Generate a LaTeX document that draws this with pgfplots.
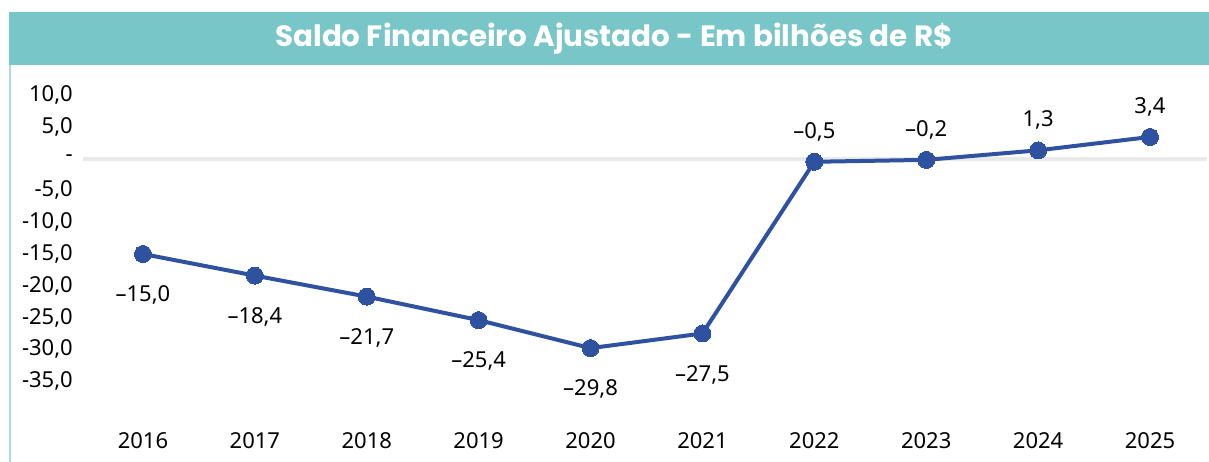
\documentclass[border=0pt]{standalone}
\usepackage{fontspec}
\setmainfont{Noto Sans}
\newfontfamily\titlefont{Poppins}
\usepackage{pgfplots}
\pgfplotsset{compat=1.18}
\definecolor{myteal}{HTML}{78C6C8}
\definecolor{borderteal}{HTML}{A8DCDD}
\definecolor{lineblue}{HTML}{2F52A0}
\definecolor{gridgray}{HTML}{E9E9E9}
\begin{document}
\begin{tikzpicture}[x=1pt,y=1pt]
\useasboundingbox (0,0) rectangle (1209,462);
\fill[myteal] (9,397) rectangle (1209,450);
\draw[borderteal, line width=2pt] (9.5,0) -- (9.5,397);
\node[text=white, font=\titlefont\bfseries\fontsize{29.4}{34}\selectfont] at (614,423.5) {Saldo Financeiro Ajustado - Em bilhões de R\$};
\begin{axis}[
  at={(83pt,49pt)}, anchor=south west, scale only axis,
  width=1124pt, height=318pt,
  xmin=-0.536, xmax=9.509, ymin=-40, ymax=10,
  axis line style={draw=none}, tick style={draw=none},
  clip=false,
  ytick={-35,-30,...,10},
  yticklabels={{-35,0},{-30,0},{-25,0},{-20,0},{-15,0},{-10,0},{-5,0},{-},{5,0},{10,0}},
  xtick={0,...,9},
  xticklabels={2016,2017,2018,2019,2020,2021,2022,2023,2024,2025},
  tick label style={font=\fontsize{22}{26}\selectfont, text=black},
  yticklabel style={anchor=east, inner sep=0pt, xshift=-10pt},
  xticklabel style={anchor=center, inner sep=0pt, yshift=-28pt},
  extra y ticks={0}, extra y tick labels={},
  extra y tick style={grid=major, major grid style={gridgray, line width=4pt}},
]
\addplot[lineblue, line width=4pt, mark=*, mark size=8.5pt,
  mark options={fill=lineblue, draw=lineblue, line width=0pt}]
  coordinates {(0,-15.0) (1,-18.4) (2,-21.7) (3,-25.4) (4,-29.8) (5,-27.5) (6,-0.5) (7,-0.2) (8,1.3) (9,3.4)};
\addplot[draw=none, mark=none, nodes near coords, point meta=explicit symbolic,
  nodes near coords style={anchor=center, yshift=-41pt, inner sep=0pt, font=\fontsize{22}{26}\selectfont, text=black}]
  table[meta=lab] {
x y lab
0 -15.0 –15,0
1 -18.4 –18,4
2 -21.7 –21,7
3 -25.4 –25,4
4 -29.8 –29,8
5 -27.5 –27,5
};
\addplot[draw=none, mark=none, nodes near coords, point meta=explicit symbolic,
  nodes near coords style={anchor=center, yshift=30pt, inner sep=0pt, font=\fontsize{22}{26}\selectfont, text=black}]
  table[meta=lab] {
x y lab
6 -0.5 –0,5
7 -0.2 –0,2
8 1.3 1,3
9 3.4 3,4
};
\end{axis}
\end{tikzpicture}
\end{document}
